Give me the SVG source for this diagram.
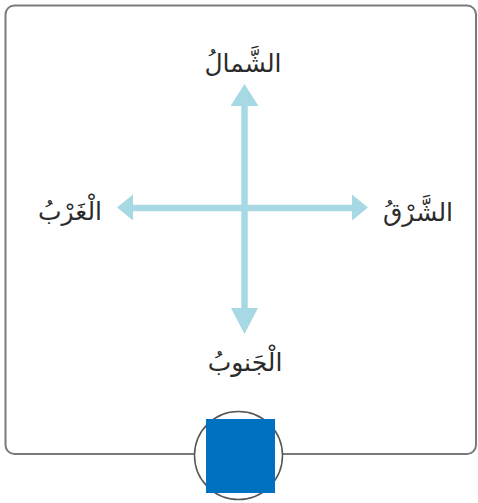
<svg xmlns="http://www.w3.org/2000/svg" width="478" height="503" viewBox="0 0 478 503">
<style>
.lbl{font-family:"DejaVu Sans","Noto Sans",sans-serif;font-size:25px;fill:#2b2b2b;text-anchor:middle}
.ax{stroke:#a6d9e3;stroke-width:6.5;fill:none}
.head{fill:#a6d9e3}
</style>
<rect x="5.5" y="5.5" width="470.5" height="448.5" rx="9" fill="#fff" stroke="#7a7a7a" stroke-width="2"/>
<g id="connectors">
<line class="ax" x1="244.5" y1="104" x2="244.5" y2="310"/>
<line class="ax" x1="132" y1="208" x2="354" y2="208"/>
<polygon class="head" points="244.5,84 230.5,106 258.5,106"/>
<polygon class="head" points="244.5,334 231,308 258,308"/>
<polygon class="head" points="117,207.5 133,194.5 133,220.5"/>
<polygon class="head" points="368,207.5 352,194.5 352,220.5"/>
</g>
<g id="north"><text class="lbl" x="243" y="72" direction="rtl">الشَّمالُ</text></g>
<g id="west"><text class="lbl" x="70" y="220" direction="rtl">الْغَرْبُ</text></g>
<g id="east"><text class="lbl" x="418" y="221" direction="rtl">الشَّرْقُ</text></g>
<g id="south"><text class="lbl" x="245" y="371" direction="rtl">الْجَنوبُ</text></g>
<g id="badge">
<circle cx="238.5" cy="455.5" r="44" fill="#fff" stroke="#555" stroke-width="1.5"/>
<rect x="206" y="419" width="69" height="74" fill="#0070c0"/>
</g>
</svg>
